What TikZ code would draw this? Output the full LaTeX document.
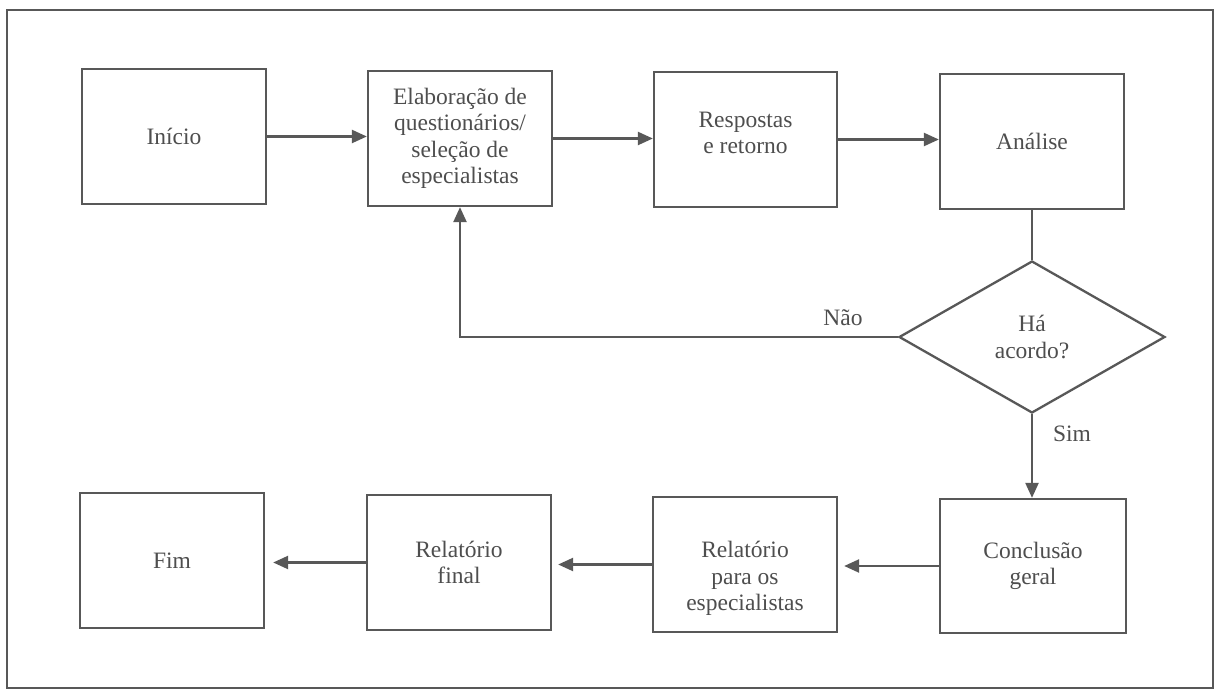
\documentclass[tikz,border=0pt]{standalone}
\usepackage{fontspec}
\setmainfont{Liberation Serif}
\newfontfamily\boxfont{Liberation Serif}
\usetikzlibrary{arrows.meta,shapes.geometric}
\definecolor{linegray}{RGB}{88,88,88}
\definecolor{textgray}{RGB}{78,78,78}
\begin{document}
\begin{tikzpicture}[x=1pt,y=-1pt,
  every node/.style={font=\boxfont\fontsize{23.5}{26.5}\selectfont, text=textgray, align=center},
  stepbox/.style={draw=linegray, line width=2.3pt, rectangle, minimum width=184pt, minimum height=135pt, inner sep=0pt},
  decision/.style={draw=linegray, line width=2.3pt, diamond, minimum width=266pt, minimum height=152pt, inner sep=0pt},
  flow/.style={draw=linegray, line width=2.3pt, -{Triangle[length=15pt,width=13pt]}},
  plain/.style={draw=linegray, line width=2.3pt}
]
\useasboundingbox (0,0) rectangle (1217,692);
\fill[white] (0,0) rectangle (1217,692);
% outer frame
\draw[linegray, line width=2.6pt] (7,10) rectangle (1213,688);

% upper row
\node[stepbox] (start) at (174,136.5) {Início};
\node[stepbox] (elab)  at (460,138.5) {Elaboração de\\questionários/\\seleção de\\especialistas};
\node[stepbox, minimum width=183pt] (resp) at (745.5,139.5) {Respostas\\e retorno\\[-13.5pt]\mbox{}};
\node[stepbox] (anal)  at (1032,141.5) {Análise};

% decision
\node[decision] (dec) at (1032,337) {Há\\acordo?};

% lower row
\node[stepbox, minimum width=186pt, minimum height=134pt] (concl) at (1033,566) {Conclusão\\geral};
\node[stepbox] (relesp) at (745,564.5) {\mbox{}\\[18pt]Relatório\\para os\\especialistas};
\node[stepbox] (relfin) at (459,562.5) {Relatório\\final};
\node[stepbox] (fim)    at (172,560.5) {Fim};

% branch labels
\node (nao) at (843,318) {Não};
\node (sim) at (1072,434) {Sim};

% connectors
\draw[flow] (start.east) -- (start.east -| elab.west);
\draw[flow] (elab.east) -- (elab.east -| resp.west);
\draw[flow] (resp.east) -- (resp.east -| anal.west);
\draw[plain] (anal.south) -- (dec.north);
\draw[flow] (dec.west) -| (elab.south);
\draw[flow] (dec.south) -- (dec.south |- concl.north);
\draw[flow, shorten >=6pt] (concl.west) -- (concl.west -| relesp.east);
\draw[flow, shorten >=6pt] (relesp.west) -- (relesp.west -| relfin.east);
\draw[flow, shorten >=8pt] (relfin.west) -- (relfin.west -| fim.east);
\end{tikzpicture}
\end{document}
